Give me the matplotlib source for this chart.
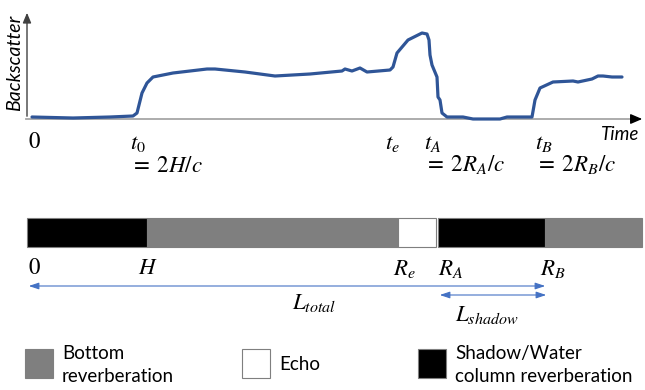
import numpy as np
import matplotlib
matplotlib.use("Agg")
import matplotlib.pyplot as plt
from matplotlib.patches import Rectangle

plt.rcParams['mathtext.fontset'] = 'stix'

# backscatter trace (pixel space: x right, y down)
curve_x = [32, 73, 110, 133, 137, 142, 147, 153, 173, 207, 215, 245, 275, 310, 342, 345,
           352, 360, 367, 390, 393, 397, 408, 422, 427, 429, 430, 432, 437, 438, 440, 442,
           447, 463, 473, 500, 507, 532, 535, 540, 553, 573, 578, 592, 598, 603, 612, 622]
curve_y = [117, 118, 117, 116, 113, 93, 83, 77, 73, 69, 69, 72, 76, 74, 71, 69,
           71, 68, 72, 70, 67, 53, 40, 33, 34, 40, 55, 65, 77, 97, 100, 113,
           117, 117, 119, 119, 117, 117, 100, 88, 82, 81, 82, 79, 76, 76, 77, 77]

# range bar segments: (start, end, colour)
bar_start = [27, 147, 398, 438, 545]
bar_end = [147, 398, 436, 545, 642]
bar_colors = ['black', '#7f7f7f', 'white', 'black', '#7f7f7f']

time_labels = [r'$0$', r'$t_0$', r'$t_e$', r'$t_A$', r'$t_B$']
time_label_x = [28, 130, 385, 424, 535]
time_eq_labels = [r'$=\;2H/c$', r'$=\;2R_A/c$', r'$=\;2R_B/c$']
time_eq_x = [130, 424, 535]

range_labels = [r'$0$', r'$H$', r'$R_e$', r'$R_A$', r'$R_B$']
range_label_x = [28, 138, 393, 438, 540]

legend_labels = ['Bottom\nreverberation', 'Echo', 'Shadow/Water\ncolumn reverberation']
legend_colors = ['#7f7f7f', 'white', 'black']
legend_x = [25, 242, 418]

fig = plt.figure(figsize=(6.45, 3.9), dpi=100)
ax = fig.add_axes([0, 0, 1, 1])
ax.set_xlim(0, 645)
ax.set_ylim(390, 0)
ax.axis('off')

# axes of the trace
ax.annotate('', xy=(27, 10), xytext=(27, 119),
            arrowprops=dict(arrowstyle='-|>,head_length=0.6,head_width=0.25', color='#404040', lw=1))
ax.plot([26, 636], [119, 119], color='#a6a6a6', lw=1.3)
ax.annotate('', xy=(645, 119), xytext=(634, 119),
            arrowprops=dict(arrowstyle='-|>,head_length=0.7,head_width=0.3', color='black', lw=1))
ax.plot(curve_x, curve_y, color='#2f5597', lw=2.3, solid_joinstyle='round', solid_capstyle='round')

sans = 'Lato'
ax.text(15, 63, 'Backscatter', rotation=90, ha='center', va='center',
        fontsize=14, fontstyle='italic', family=sans)
ax.text(601, 134, 'Time', ha='left', va='center', fontsize=13.5, fontstyle='italic', family=sans)

for lab, x in zip(time_labels, time_label_x):
    ax.text(x, 142, lab, ha='left', va='center', fontsize=16.5)
for lab, x in zip(time_eq_labels, time_eq_x):
    ax.text(x, 165, lab, ha='left', va='center', fontsize=16.5)

# range bar
for s, e, c in zip(bar_start, bar_end, bar_colors):
    ax.add_patch(Rectangle((s, 218), e - s, 29, facecolor=c, edgecolor='#7f7f7f', lw=0.8))

for lab, x in zip(range_labels, range_label_x):
    ax.text(x, 268, lab, ha='left', va='center', fontsize=16.5)

arrow_blue = '#4472c4'
ax.annotate('', xy=(26, 286), xytext=(548, 286),
            arrowprops=dict(arrowstyle='<|-|>,head_length=0.6,head_width=0.2', color=arrow_blue, lw=0.8))
ax.annotate('', xy=(437, 295), xytext=(549, 295),
            arrowprops=dict(arrowstyle='<|-|>,head_length=0.6,head_width=0.2', color=arrow_blue, lw=0.8))
ax.text(292, 302, r'$L_{total}$', ha='left', va='center', fontsize=16.5)
ax.text(455, 314, r'$L_{shadow}$', ha='left', va='center', fontsize=16.5)

# legend
for lab, c, x in zip(legend_labels, legend_colors, legend_x):
    ax.add_patch(Rectangle((x, 349), 28, 29, facecolor=c, edgecolor='#7f7f7f', lw=0.8))
    ax.text(x + 37, 365, lab, ha='left', va='center', fontsize=13.5, family=sans, linespacing=1.4)

fig.savefig('out.png', dpi=100)
